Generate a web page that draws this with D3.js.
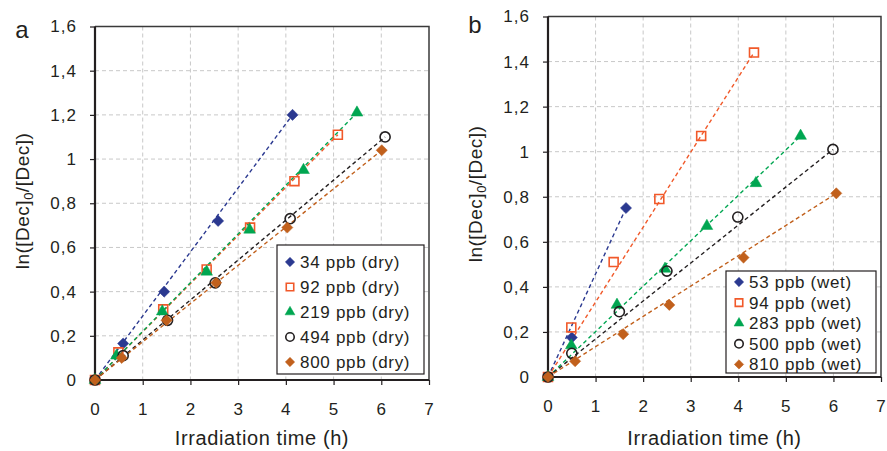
<!DOCTYPE html>
<html>
<head>
<meta charset="utf-8">
<script src="https://cdn.jsdelivr.net/npm/d3@7"></script>
<style>
  body { margin: 0; background: #fff; }
  text { font-family: "Liberation Sans", Arial, sans-serif; fill: #231f20; }
</style>
</head>
<body>
<svg id="chart" width="887" height="451"></svg>
<script>
// axis ticks
const xTicks = [0, 1, 2, 3, 4, 5, 6, 7];
const yTicks = [0, 0.2, 0.4, 0.6, 0.8, 1, 1.2, 1.4, 1.6];
const yTickLabels = ["0", "0,2", "0,4", "0,6", "0,8", "1", "1,2", "1,4", "1,6"];

// panel a, dry air: [time (h), ln([Dec]0/[Dec])]
const dryLabels = ["34 ppb (dry)", "92 ppb (dry)", "219 ppb (dry)", "494 ppb (dry)", "800 ppb (dry)"];
const dry34 = [[0, 0], [0.59, 0.165], [1.45, 0.40], [2.58, 0.72], [4.14, 1.20]];
const dry92 = [[0, 0], [0.49, 0.125], [1.43, 0.32], [2.34, 0.50], [3.25, 0.69], [4.18, 0.90], [5.09, 1.11]];
const dry219 = [[0, 0], [0.45, 0.11], [1.41, 0.31], [2.34, 0.49], [3.24, 0.68], [4.37, 0.95], [5.49, 1.21]];
const dry494 = [[0, 0], [0.59, 0.11], [1.52, 0.27], [2.52, 0.44], [4.09, 0.73], [6.08, 1.10]];
const dry800 = [[0, 0], [0.56, 0.10], [1.50, 0.27], [2.54, 0.44], [4.03, 0.69], [6.01, 1.04]];

// panel b, wet air
const wetLabels = ["53 ppb (wet)", "94 ppb (wet)", "283 ppb (wet)", "500 ppb (wet)", "810 ppb (wet)"];
const wet53 = [[0, 0], [0.50, 0.175], [1.64, 0.75]];
const wet94 = [[0, 0], [0.49, 0.22], [1.38, 0.51], [2.34, 0.79], [3.22, 1.07], [4.33, 1.44]];
const wet283 = [[0, 0], [0.49, 0.14], [1.45, 0.32], [2.46, 0.48], [3.34, 0.67], [4.37, 0.86], [5.31, 1.07]];
const wet500 = [[0, 0], [0.50, 0.105], [1.50, 0.29], [2.50, 0.47], [3.99, 0.71], [5.99, 1.01]];
const wet810 = [[0, 0], [0.57, 0.07], [1.58, 0.19], [2.55, 0.32], [4.11, 0.53], [6.06, 0.815]];

// marker styles, same order in both panels
const colors = ["#2b3990", "#f1592a", "#00a651", "#231f20", "#c1601c"];
const shapes = ["diamond", "square", "triangle", "circle", "diamond"];
const filled = [true, false, true, false, true];

const svg = d3.select("#chart");

function symbolPath(shape, k) {
  if (shape == "diamond") return d3.symbol(d3.symbolSquare, 62 * k)();
  if (shape == "square") return d3.symbol(d3.symbolSquare, 80 * k)();
  if (shape == "triangle") return d3.symbol(d3.symbolTriangle, 60 * k)();
  return d3.symbol(d3.symbolCircle, 80 * k)();
}

function drawMarker(g, shape, color, fill, x, y, k) {
  g.append("path")
    .attr("d", symbolPath(shape, k || 1))
    .attr("transform", `translate(${x},${y})` + (shape == "diamond" ? " rotate(45)" : ""))
    .attr("fill", fill ? color : "none")
    .attr("stroke", color)
    .attr("stroke-width", fill ? 0.5 : 1.6);
}

function drawPanel(box, letter, seriesList, labels, legendBox) {
  const x = d3.scaleLinear().domain([0, 7]).range([box.left, box.right]);
  const y = d3.scaleLinear().domain([0, 1.6]).range([box.bottom, box.top]);
  const g = svg.append("g");

  // grid
  g.selectAll(".gx").data(xTicks.slice(1, -1)).enter().append("line")
    .attr("x1", d => x(d)).attr("x2", d => x(d))
    .attr("y1", box.top).attr("y2", box.bottom)
    .attr("stroke", "#c8c8c8").attr("stroke-dasharray", "4,3");
  g.selectAll(".gy").data(yTicks.slice(1, -1)).enter().append("line")
    .attr("x1", box.left).attr("x2", box.right)
    .attr("y1", d => y(d)).attr("y2", d => y(d))
    .attr("stroke", "#c8c8c8").attr("stroke-dasharray", "4,3");

  // frame top / right
  g.append("path")
    .attr("d", `M${box.left},${box.top}H${box.right}V${box.bottom}`)
    .attr("fill", "none").attr("stroke", "#3a3a3a").attr("stroke-width", 1.5);

  // axes
  const xAxis = g.append("g").attr("transform", `translate(0,${box.bottom})`)
    .call(d3.axisBottom(x).tickValues(xTicks).tickSize(5).tickPadding(18).tickFormat(d3.format("d")));
  const yAxis = g.append("g").attr("transform", `translate(${box.left},0)`)
    .call(d3.axisLeft(y).tickValues(yTicks).tickSize(5).tickPadding(13).tickFormat((d, i) => yTickLabels[i]));
  [xAxis, yAxis].forEach(a => {
    a.select(".domain").attr("stroke", "#231f20").attr("stroke-width", 2.2);
    a.selectAll(".tick line").attr("stroke", "#231f20").attr("stroke-width", 1.2);
    a.selectAll(".tick text").style("font-size", "17px").style("letter-spacing", "1px").attr("fill", "#231f20");
  });
  xAxis.select(".domain").attr("d", `M${box.left},0H${box.right}`);
  yAxis.select(".domain").attr("d", `M0,${box.bottom}V${box.top}`);

  // trend lines and markers
  seriesList.forEach((data, i) => {
    const ends = [data[0], data[data.length - 1]];
    g.append("path")
      .attr("d", d3.line().x(d => x(d[0])).y(d => y(d[1]))(ends))
      .attr("fill", "none").attr("stroke", colors[i])
      .attr("stroke-width", 1.4).attr("stroke-dasharray", "4,3");
  });
  seriesList.forEach((data, i) => {
    data.forEach(d => drawMarker(g, shapes[i], colors[i], filled[i], x(d[0]), y(d[1])));
  });

  // legend
  g.append("rect")
    .attr("x", legendBox.x).attr("y", legendBox.y)
    .attr("width", legendBox.w).attr("height", legendBox.h)
    .attr("fill", "#fff").attr("stroke", "#231f20").attr("stroke-width", 1.2);
  labels.forEach((lab, i) => {
    const ly = legendBox.y + legendBox.pad + i * legendBox.step;
    drawMarker(g, shapes[i], colors[i], filled[i], legendBox.x + 13, ly, 0.7);
    g.append("text")
      .attr("x", legendBox.x + 23).attr("y", ly)
      .attr("dy", "0.35em")
      .style("font-size", "17px")
      .style("letter-spacing", "0.7px")
      .text(lab);
  });

  // titles
  g.append("text")
    .attr("x", (box.left + box.right) / 2).attr("y", 445)
    .attr("text-anchor", "middle").style("font-size", "20px")
    .style("letter-spacing", "0.6px")
    .text("Irradiation time (h)");
  const yt = g.append("text")
    .attr("transform", `translate(${box.left - 66},${box.yTitle}) rotate(-90)`)
    .attr("text-anchor", "middle").style("font-size", "19px")
    .style("letter-spacing", "0.5px");
  yt.append("tspan").text("ln([Dec]");
  yt.append("tspan").attr("dy", 4).style("font-size", "13px").text("0");
  yt.append("tspan").attr("dy", -4).text("/[Dec])");

  g.append("text")
    .attr("x", box.left - 73).attr("y", box.letterY)
    .attr("text-anchor", "middle").style("font-size", "24px")
    .text(letter);
}

drawPanel({ left: 95, right: 429, top: 26.5, bottom: 380, yTitle: 201, letterY: 37.5 }, "a",
  [dry34, dry92, dry219, dry494, dry800], dryLabels,
  { x: 277, y: 245, w: 147, h: 129, pad: 17, step: 25 });

drawPanel({ left: 548, right: 881, top: 16.5, bottom: 377, yTitle: 194, letterY: 33 }, "b",
  [wet53, wet94, wet283, wet500, wet810], wetLabels,
  { x: 726, y: 271, w: 150, h: 102, pad: 11, step: 20.6 });
</script>
</body>
</html>
